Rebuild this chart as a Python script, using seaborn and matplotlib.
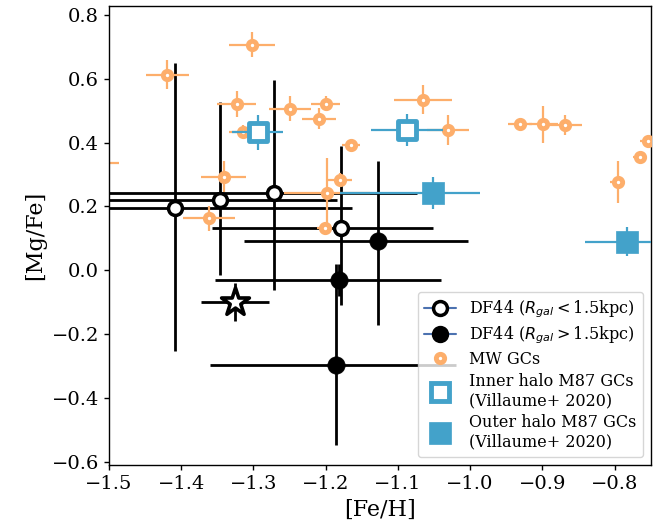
import numpy as np
import matplotlib
matplotlib.use("Agg")
import matplotlib.pyplot as plt
from matplotlib.lines import Line2D
import seaborn as sns

# DF44 GCs, R_gal < 1.5 kpc (open circles)
feh_in = [-1.408, -1.346, -1.272, -1.179]
mgfe_in = [0.195, 0.220, 0.243, 0.131]
feh_in_lo = [0.25, 0.165, 0.24, 0.178]
feh_in_hi = [0.245, 0.162, 0.199, 0.128]
mgfe_in_lo = [0.447, 0.235, 0.305, 0.240]
mgfe_in_hi = [0.455, 0.307, 0.353, 0.259]

# DF44 GCs, R_gal > 1.5 kpc (filled circles)
feh_out = [-1.128, -1.1815, -1.186]
mgfe_out = [0.092, -0.029, -0.298]
feh_out_lo = [0.185, 0.171, 0.174]
feh_out_hi = [0.125, 0.141, 0.167]
mgfe_out_lo = [0.264, 0.05, 0.250]
mgfe_out_hi = [0.250, 0.05, 0.317]

# DF44 integrated (star)
feh_star = [-1.325]
mgfe_star = [-0.099]
feh_star_err = [0.047]
mgfe_star_err = [0.06]

# MW GCs
feh_mw = [-1.419, -1.302, -1.323, -1.249, -1.200, -1.209, -1.314, -1.165,
          -1.180, -1.198, -1.2015, -1.341, -1.361, -1.54, -1.0655, -1.031,
          -0.931, -0.899, -0.869, -0.796, -0.765, -0.7545]
mgfe_mw = [0.612, 0.706, 0.521, 0.505, 0.521, 0.475, 0.434, 0.392,
           0.283, 0.243, 0.133, 0.293, 0.163, 0.337, 0.534, 0.439,
           0.457, 0.457, 0.455, 0.277, 0.356, 0.406]
feh_mw_err = [0.030, 0.032, 0.027, 0.029, 0.020, 0.024, 0.020, 0.012,
              0.017, 0.060, 0.010, 0.031, 0.036, 0.054, 0.040, 0.029,
              0.016, 0.020, 0.024, 0.010, 0.010, 0.0105]
mgfe_mw_err = [0.046, 0.039, 0.040, 0.039, 0.023, 0.033, 0.020, 0.010,
               0.020, 0.108, 0.010, 0.048, 0.039, 0.030, 0.046, 0.048,
               0.010, 0.057, 0.031, 0.066, 0.010, 0.010]

# M87 GCs (Villaume+ 2020)
feh_m87_in = [-1.294, -1.087]
mgfe_m87_in = [0.432, 0.439]
feh_m87_in_err = [0.035, 0.05]
mgfe_m87_in_err = [0.054, 0.049]

feh_m87_out = [-1.052, -0.783]
mgfe_m87_out = [0.241, 0.089]
feh_m87_out_lo = [0.128, 0.058]
feh_m87_out_hi = [0.066, 0.058]
mgfe_m87_out_err = [0.05, 0.045]

orange = '#fdae6b'
blue = '#43a2ca'

sns.set_theme(style='ticks', rc={
    'axes.edgecolor': 'black', 'text.color': 'black',
    'xtick.color': 'black', 'ytick.color': 'black',
    'axes.labelcolor': 'black', 'axes.linewidth': 1.0,
    'xtick.major.size': 3.5, 'ytick.major.size': 3.5,
    'xtick.major.width': 1.0, 'ytick.major.width': 1.0,
})
plt.rcParams['font.family'] = ['DejaVu Serif']
plt.rcParams['mathtext.fontset'] = 'dejavusans'

fig = plt.figure(figsize=(6.6, 5.25), dpi=100)
ax = fig.add_axes([0.165, 0.114, 0.821, 0.875])

# error bars
ax.errorbar(feh_in, mgfe_in, xerr=[feh_in_lo, feh_in_hi], yerr=[mgfe_in_lo, mgfe_in_hi],
            fmt='none', ecolor='black', elinewidth=2, zorder=1)
ax.errorbar(feh_out, mgfe_out, xerr=[feh_out_lo, feh_out_hi], yerr=[mgfe_out_lo, mgfe_out_hi],
            fmt='none', ecolor='black', elinewidth=2, zorder=1)
ax.errorbar(feh_star, mgfe_star, xerr=feh_star_err, yerr=mgfe_star_err,
            fmt='none', ecolor='black', elinewidth=2, zorder=1)
ax.errorbar(feh_mw, mgfe_mw, xerr=feh_mw_err, yerr=mgfe_mw_err,
            fmt='none', ecolor=orange, elinewidth=1.6, zorder=2)
ax.errorbar(feh_m87_in, mgfe_m87_in, xerr=feh_m87_in_err, yerr=mgfe_m87_in_err,
            fmt='none', ecolor=blue, elinewidth=1.6, zorder=4)
ax.errorbar(feh_m87_out, mgfe_m87_out, xerr=[feh_m87_out_lo, feh_m87_out_hi],
            yerr=mgfe_m87_out_err, fmt='none', ecolor=blue, elinewidth=1.6, zorder=4)

# markers
sns.scatterplot(x=feh_mw, y=mgfe_mw, ax=ax, marker='o', s=6**2, color='white',
                edgecolor=orange, linewidth=3.5, zorder=3, legend=False)
sns.scatterplot(x=feh_m87_in, y=mgfe_m87_in, ax=ax, marker='s', s=13**2, color='white',
                edgecolor=blue, linewidth=3.5, zorder=5, legend=False)
sns.scatterplot(x=feh_m87_out, y=mgfe_m87_out, ax=ax, marker='s', s=15.5**2, color=blue,
                edgecolor=blue, linewidth=0.5, zorder=5, legend=False)
sns.scatterplot(x=feh_in, y=mgfe_in, ax=ax, marker='o', s=10**2, color='white',
                edgecolor='black', linewidth=2.5, zorder=6, legend=False)
sns.scatterplot(x=feh_out, y=mgfe_out, ax=ax, marker='o', s=12.5**2, color='black',
                edgecolor='black', linewidth=0.5, zorder=6, legend=False)
sns.scatterplot(x=feh_star, y=mgfe_star, ax=ax, marker='*', s=21**2, color='white',
                edgecolor='black', linewidth=2.6, zorder=6, legend=False)

ax.set_xlim(-1.5, -0.75)
ax.set_ylim(-0.61, 0.828)
ax.set_xlabel('[Fe/H]', fontsize=16)
ax.set_ylabel('[Mg/Fe]', fontsize=16)
ax.tick_params(labelsize=14)

handles = [
    Line2D([], [], color='C0', marker='o', ms=10, mfc='white', mec='black', mew=2.5),
    Line2D([], [], color='C0', marker='o', ms=10, mfc='black', mec='black', mew=2.5),
    Line2D([], [], ls='none', marker='o', ms=6, mfc='white', mec=orange, mew=3.5),
    Line2D([], [], ls='none', marker='s', ms=13, mfc='white', mec=blue, mew=3.5),
    Line2D([], [], ls='none', marker='s', ms=15.5, mfc=blue, mec=blue, mew=0.5),
]
labels = [r'DF44 ($R_{gal} < $1.5kpc)', r'DF44 ($R_{gal} > $1.5kpc)', 'MW GCs',
          'Inner halo M87 GCs\n(Villaume+ 2020)', 'Outer halo M87 GCs\n(Villaume+ 2020)']
leg = ax.legend(handles, labels, loc='lower right', fontsize=11.5, frameon=True,
                framealpha=0.8, edgecolor='0.8', fancybox=True, labelspacing=0.3)
leg.set_zorder(10)

fig.savefig('out.png', dpi=100)
